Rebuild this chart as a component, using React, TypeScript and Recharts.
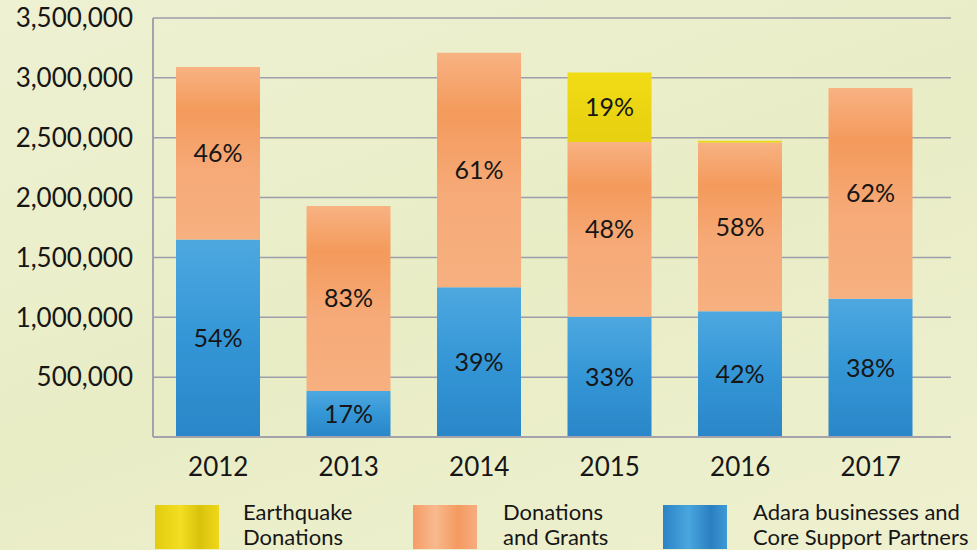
import { Bar, BarChart, CartesianGrid, LabelList, XAxis, YAxis } from 'recharts';

const years = ['2012', '2013', '2014', '2015', '2016', '2017'];
const adara = [1650000, 385000, 1250000, 1005000, 1050000, 1155000];
const donations = [1440000, 1545000, 1960000, 1460000, 1410000, 1760000];
const earthquake = [0, 0, 0, 580000, 15000, 0];
const adaraPct = ['54%', '17%', '39%', '33%', '42%', '38%'];
const donationsPct = ['46%', '83%', '61%', '48%', '58%', '62%'];
const earthquakePct = ['', '', '', '19%', '', ''];
const yTicks = [0, 500000, 1000000, 1500000, 2000000, 2500000, 3000000, 3500000];

const data = years.map((year, i) => ({
  year,
  adara: adara[i],
  donations: donations[i],
  earthquake: earthquake[i],
  adaraPct: adaraPct[i],
  donationsPct: donationsPct[i],
  earthquakePct: earthquakePct[i],
}));

const legendItems = [
  { lines: ['Earthquake', 'Donations'], fill: 'linear-gradient(90deg, #e3cc10, #f2de22 40%, #d9c20c 70%, #efd818)', left: 155, textLeft: 243 },
  { lines: ['Donations', 'and Grants'], fill: 'linear-gradient(90deg, #f59c66, #f8b98e 35%, #f49a60 70%, #f7ad80)', left: 413, textLeft: 503 },
  { lines: ['Adara businesses and', 'Core Support Partners'], fill: 'linear-gradient(90deg, #2b84c6, #4aa6de 40%, #2a7fc0 75%, #3f9ad6)', left: 663, textLeft: 753 },
];

const labelStyle = { fill: '#161616', fontSize: 25 };

export default function App() {
  return (
    <div
      style={{
        position: 'fixed',
        top: 0,
        left: 0,
        width: 977,
        height: 550,
        overflow: 'hidden',
        fontFamily: 'Lato, "Open Sans", sans-serif',
        background: 'linear-gradient(160deg, #eef1d2 0%, #e9edc6 50%, #eef0cf 100%)',
      }}
    >
      <BarChart
        width={977}
        height={550}
        data={data}
        barSize={84}
        margin={{ top: 18, right: 26, left: 0, bottom: 73 }}
      >
        <defs>
          <linearGradient id="blueFill" x1="0" y1="0" x2="0" y2="1">
            <stop offset="0%" stopColor="#4ea8e0" />
            <stop offset="50%" stopColor="#3496d6" />
            <stop offset="100%" stopColor="#2a86c8" />
          </linearGradient>
          <linearGradient id="orangeFill" x1="0" y1="0" x2="0" y2="1">
            <stop offset="0%" stopColor="#f8b282" />
            <stop offset="25%" stopColor="#f49a5c" />
            <stop offset="60%" stopColor="#f6aa78" />
            <stop offset="100%" stopColor="#f7b080" />
          </linearGradient>
          <linearGradient id="yellowFill" x1="0" y1="0" x2="0" y2="1">
            <stop offset="0%" stopColor="#f2dc16" />
            <stop offset="100%" stopColor="#e6d010" />
          </linearGradient>
        </defs>
        <CartesianGrid vertical={false} stroke="#9d9eab" strokeWidth={1.5} />
        <XAxis
          dataKey="year"
          height={40}
          padding={{ left: 0, right: 15 }}
          tickSize={0}
          tickMargin={21}
          tick={{ fill: '#161616', fontSize: 26 }}
          axisLine={{ stroke: '#a3a3ab', strokeWidth: 2 }}
          tickLine={false}
        />
        <YAxis
          width={153}
          domain={[0, 3500000]}
          ticks={yTicks}
          interval={0}
          tickSize={0}
          tickMargin={20}
          tickFormatter={(v: number) => (v === 0 ? '' : v.toLocaleString('en-US'))}
          tick={{ fill: '#161616', fontSize: 26 }}
          axisLine={{ stroke: '#a3a3ab', strokeWidth: 2 }}
          tickLine={false}
        />
        <Bar dataKey="adara" stackId="a" fill="url(#blueFill)" isAnimationActive={false}>
          <LabelList dataKey="adaraPct" position="center" style={labelStyle} />
        </Bar>
        <Bar dataKey="donations" stackId="a" fill="url(#orangeFill)" isAnimationActive={false}>
          <LabelList dataKey="donationsPct" position="center" style={labelStyle} />
        </Bar>
        <Bar dataKey="earthquake" stackId="a" fill="url(#yellowFill)" isAnimationActive={false}>
          <LabelList dataKey="earthquakePct" position="center" style={labelStyle} />
        </Bar>
      </BarChart>
      {legendItems.map((item) => (
        <div key={item.lines[0]}>
          <div
            style={{
              position: 'absolute',
              left: item.left,
              top: 505,
              width: 64,
              height: 44,
              background: item.fill,
            }}
          />
          <div
            style={{
              position: 'absolute',
              left: item.textLeft,
              top: 499,
              fontSize: 22,
              lineHeight: '25px',
              color: '#161616',
              whiteSpace: 'nowrap',
            }}
          >
            {item.lines.map((l) => (
              <div key={l}>{l}</div>
            ))}
          </div>
        </div>
      ))}
    </div>
  );
}
